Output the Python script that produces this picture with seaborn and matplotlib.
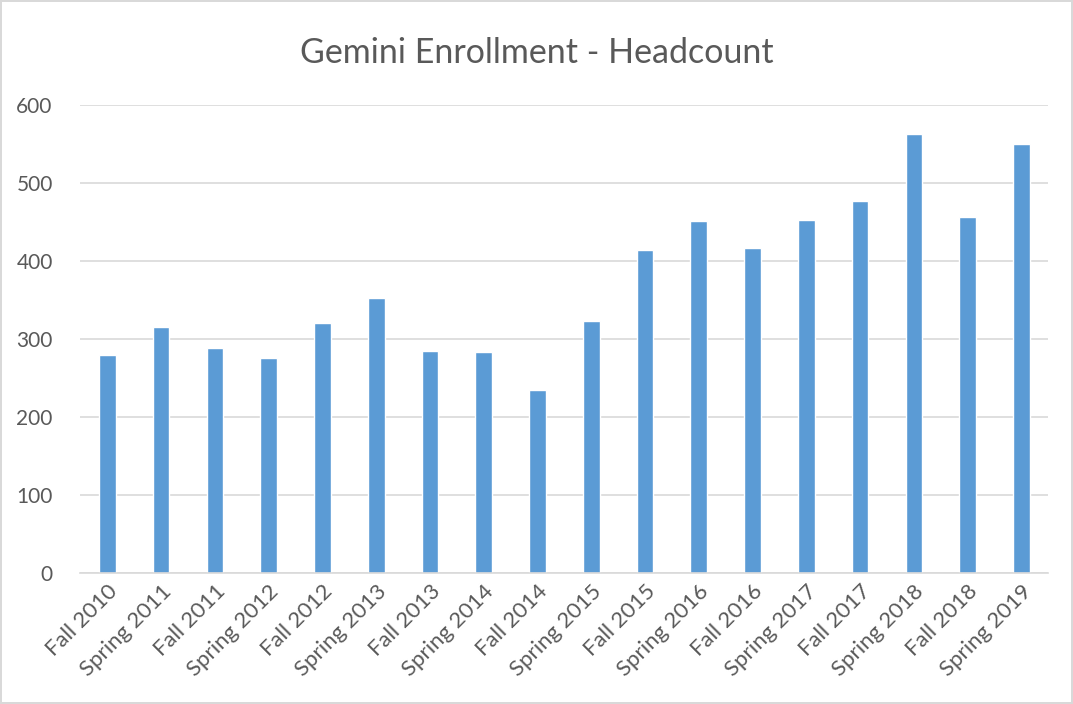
import pandas as pd
import matplotlib.pyplot as plt
import seaborn as sns

# terms and headcounts
terms = ["Fall 2010", "Spring 2011", "Fall 2011", "Spring 2012", "Fall 2012",
         "Spring 2013", "Fall 2013", "Spring 2014", "Fall 2014", "Spring 2015",
         "Fall 2015", "Spring 2016", "Fall 2016", "Spring 2017", "Fall 2017",
         "Spring 2018", "Fall 2018", "Spring 2019"]
headcount = [280, 315, 289, 276, 321, 353, 284, 283, 235, 323,
             414, 451, 416, 453, 477, 563, 456, 550]

df = pd.DataFrame({"Term": terms, "Headcount": headcount})

sns.set_style("white")
plt.rcParams["font.family"] = ["Lato", "DejaVu Sans"]
text_color = "#595959"

fig = plt.figure(figsize=(10.73, 7.04), dpi=100)
fig.patch.set_edgecolor("#d9d9d9")
fig.patch.set_linewidth(1.5)
ax = fig.add_axes([0.075, 0.186, 0.902, 0.665])

sns.barplot(data=df, x="Term", y="Headcount", color="#5B9BD5",
            width=0.31, saturation=1, ax=ax)

ax.set_ylim(0, 600)
ax.set_yticks(range(0, 601, 100))
ax.yaxis.grid(True, color="#d9d9d9", linewidth=1.2)
ax.set_axisbelow(True)
ax.set_xlim(-0.5, len(terms) - 0.5)
for s in ["top", "right", "left"]:
    ax.spines[s].set_visible(False)
ax.spines["bottom"].set_color("#d9d9d9")
ax.spines["bottom"].set_linewidth(1.2)

ax.set_xlabel("")
ax.set_ylabel("")
ax.tick_params(axis="both", length=0, labelsize=15, colors=text_color)
ax.tick_params(axis="y", pad=20)
ax.tick_params(axis="x", labelsize=16, pad=6)
plt.setp(ax.get_xticklabels(), rotation=45, ha="right", rotation_mode="anchor")

fig.suptitle("Gemini Enrollment - Headcount", y=0.948, fontsize=24.5, color=text_color)

plt.savefig("out.png", dpi=100, edgecolor=fig.get_edgecolor())
